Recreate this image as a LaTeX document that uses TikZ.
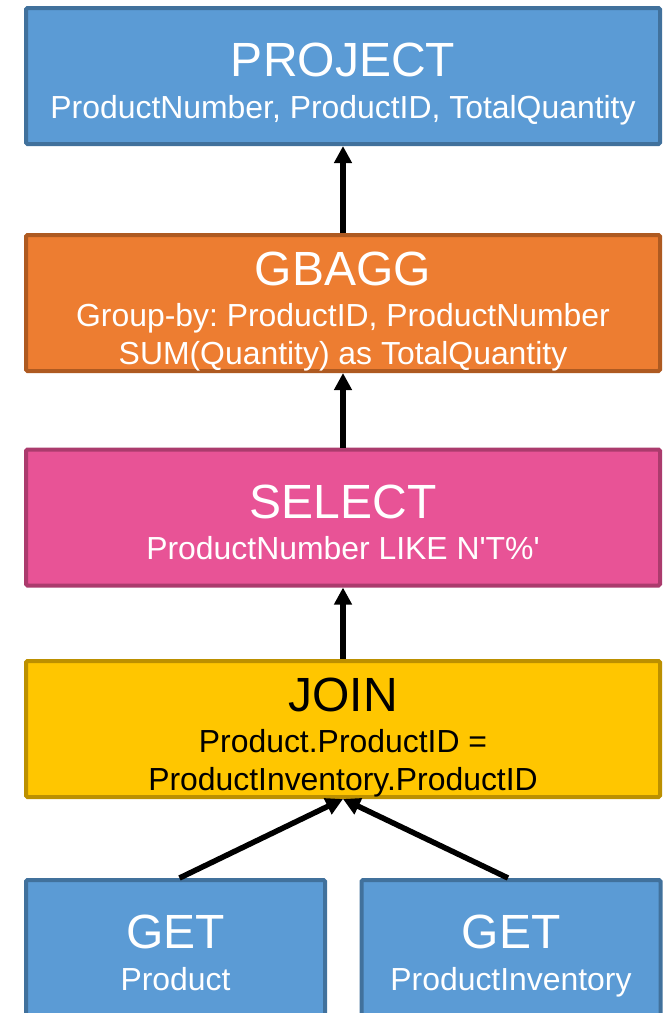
\documentclass[tikz,border=0pt]{standalone}
\usepackage{fontspec}
\setmainfont{Liberation Sans}
\usetikzlibrary{arrows.meta}

\definecolor{blueFill}{HTML}{5B9BD5}
\definecolor{blueLine}{HTML}{41719C}
\definecolor{orangeFill}{HTML}{ED7D31}
\definecolor{orangeLine}{HTML}{AE5A21}
\definecolor{pinkFill}{HTML}{E85396}
\definecolor{pinkLine}{HTML}{AB3B6D}
\definecolor{yellowFill}{HTML}{FFC600}
\definecolor{yellowLine}{HTML}{BC9000}

% operator name line (with a fixed top strut) and last detail line (fixed depth)
\newcommand\opTitle[1]{\rule{0pt}{50pt}{\fontsize{48}{57}\selectfont #1}}
\newcommand\opLast[1]{\rule[-7pt]{0pt}{7pt}#1}

\tikzset{
  opbox/.style={rectangle, rounded corners=1.5pt, line width=4pt,
    minimum width=634pt, minimum height=136pt, inner sep=0pt,
    align=center, text=white,
    font=\fontsize{31.9}{37.5}\selectfont\frenchspacing},
  getbox/.style={opbox, minimum width=299pt},
  flow/.style={line width=5.5pt, -{Triangle[width=17pt,length=17pt]}}
}

\begin{document}
\begin{tikzpicture}[x=1pt, y=-1pt]
  \useasboundingbox (0,0) rectangle (672,1013);
  \clip (0,0) rectangle (672,1013);

  \node[opbox, fill=blueFill, draw=blueLine] (project) at (343,76)
    {\opTitle{PROJECT}\\[4pt] \opLast{ProductNumber, ProductID, TotalQuantity}};
  \node[opbox, fill=orangeFill, draw=orangeLine] (gbagg) at (343,303)
    {\opTitle{GBAGG}\\[4pt] Group-by: ProductID, ProductNumber\\ \opLast{SUM(Quantity) as TotalQuantity}};
  \node[opbox, fill=pinkFill, draw=pinkLine] (select) at (343,517.5)
    {\opTitle{SELECT}\\[4pt] \opLast{ProductNumber LIKE N\textquotesingle T\%\textquotesingle}};
  \node[opbox, fill=yellowFill, draw=yellowLine, text=black] (join) at (343,729)
    {\opTitle{JOIN}\\[4pt] Product.ProductID =\\ \opLast{ProductInventory.ProductID}};
  \node[getbox, fill=blueFill, draw=blueLine] (getprod) at (175.5,948)
    {\opTitle{GET}\\[4pt] \opLast{Product}};
  \node[getbox, fill=blueFill, draw=blueLine] (getinv) at (511,948)
    {\opTitle{GET}\\[4pt] \opLast{ProductInventory}};

  \draw[flow] (gbagg.north) -- (project.south);
  \draw[flow] (select.north) -- (gbagg.south);
  \draw[flow] (join.north) -- (select.south);
  \draw[flow] ([xshift=4pt]getprod.north) -- (join.south);
  \draw[flow] ([xshift=-3pt]getinv.north) -- (join.south);
\end{tikzpicture}
\end{document}
